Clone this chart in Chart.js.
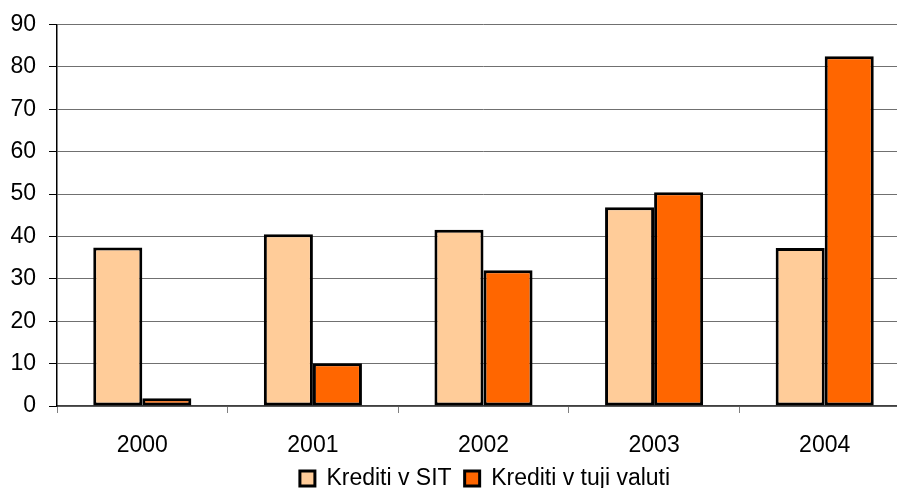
<!DOCTYPE html>
<html>
<head>
<meta charset="utf-8">
<script src="https://cdn.jsdelivr.net/npm/chart.js@4.4.0/dist/chart.umd.min.js"></script>
<style>
    html, body { margin: 0; padding: 0; background: #fff; overflow: hidden; }
    #wrap { width: 910px; height: 488px; position: relative; }
</style>
</head>
<body>
<div id="wrap"><canvas id="chart"></canvas></div>
<script>
// Podatki
const leta = ['2000', '2001', '2002', '2003', '2004'];
const kreditiSIT = [37.4, 40.5, 41.6, 46.9, 37.3];
const kreditiTuji = [1.8, 10.1, 32.0, 50.4, 82.5];
const yMin = 0;
const yMax = 90;
const yKorak = 10;

const pisava = '"Liberation Sans", Arial, sans-serif';

// legenda: nizja in premaknjena v desno (kot v originalu)
const popravekLegende = {
    id: 'popravekLegende',
    beforeLayout(chart) {
        const lg = chart.legend;
        if (lg && !lg._popravljeno) {
            const fit = lg.fit.bind(lg);
            lg.fit = function() {
                fit();
                this.height = 34;
            };
            lg._popravljeno = true;
        }
    },
    afterLayout(chart) {
        if (chart.legend) {
            chart.legend.left += 30;
            chart.legend.right += 30;
        }
    }
};

const ctx = document.getElementById('chart').getContext('2d');
const chart = new Chart(ctx, {
    type: 'bar',
    data: {
        labels: leta,
        datasets: [{
            label: 'Krediti v SIT',
            data: kreditiSIT,
            backgroundColor: '#FFCC99',
            borderColor: '#000000',
            borderWidth: 3,
            borderSkipped: false
        }, {
            label: 'Krediti v tuji valuti',
            data: kreditiTuji,
            backgroundColor: '#FF6600',
            borderColor: '#000000',
            borderWidth: 3,
            borderSkipped: false
        }]
    },
    options: {
        responsive: true,
        maintainAspectRatio: false,
        animation: false,
        categoryPercentage: 0.575,
        barPercentage: 1.0,
        layout: {
            padding: { left: 0, top: 13, right: 0, bottom: 0 }
        },
        plugins: {
            tooltip: { enabled: false },
            legend: {
                position: 'bottom',
                labels: {
                    boxWidth: 15,
                    boxHeight: 15,
                    padding: 13,
                    color: '#000',
                    font: { family: pisava, size: 23 }
                }
            }
        },
        scales: {
            x: {
                offset: true,
                afterFit(scale) { scale.height = 48; },
                grid: {
                    display: true,
                    drawOnChartArea: false,
                    offset: true,
                    tickLength: 7,
                    tickColor: '#808080'
                },
                border: { color: '#404040', width: 1.5 },
                ticks: {
                    color: '#000',
                    padding: 19,
                    font: { family: pisava, size: 23 }
                }
            },
            y: {
                min: yMin,
                max: yMax,
                afterFit(scale) { scale.width = 57; },
                grid: {
                    color: '#707070',
                    lineWidth: 1,
                    tickLength: 8,
                    tickColor: '#000'
                },
                border: { color: '#000', width: 1.5 },
                ticks: {
                    stepSize: yKorak,
                    color: '#000',
                    padding: 13,
                    font: { family: pisava, size: 23, lineHeight: 1 }
                }
            }
        }
    },
    plugins: [popravekLegende]
});
</script>
</body>
</html>
